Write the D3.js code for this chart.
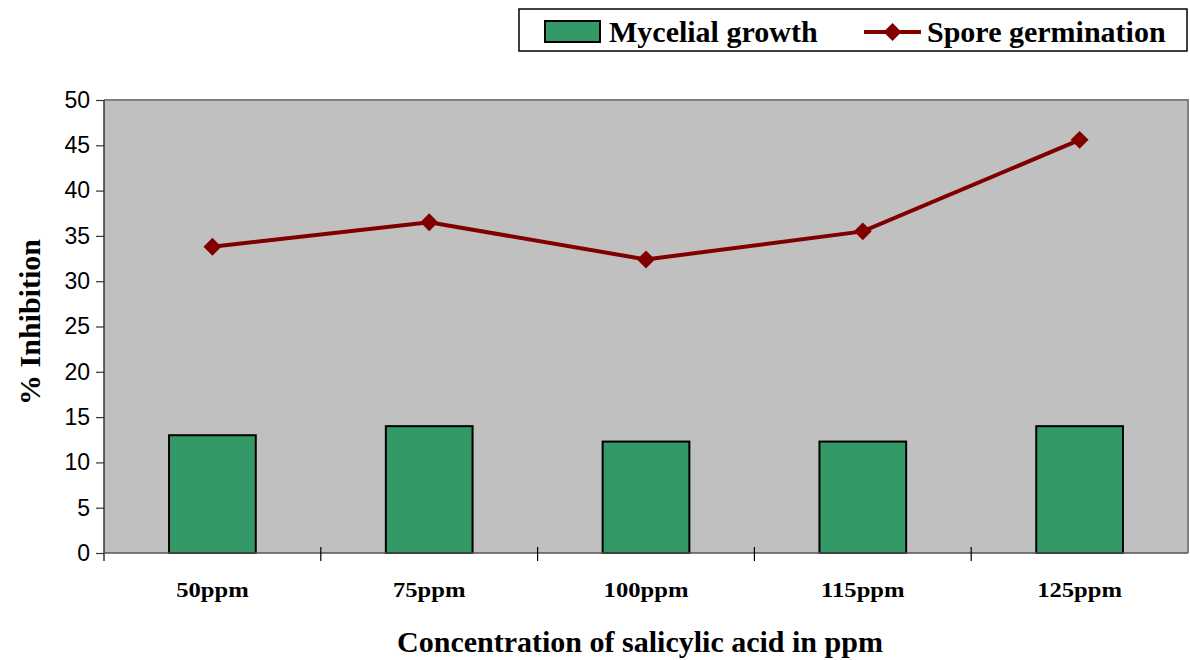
<!DOCTYPE html>
<html>
<head>
<meta charset="utf-8">
<script src="https://cdn.jsdelivr.net/npm/d3@7"></script>
<style>
  body { margin: 0; background: #fff; }
  svg { display: block; }
</style>
</head>
<body>
<svg id="chart" width="1190" height="660"></svg>
<script>
// Inhibition (%) at each salicylic acid concentration
const categories = ["50ppm", "75ppm", "100ppm", "115ppm", "125ppm"];
const mycelialGrowth = [13.0, 14.0, 12.3, 12.3, 14.0];
const sporeGermination = [33.8, 36.5, 32.4, 35.5, 45.6];
const yTicks = [0, 5, 10, 15, 20, 25, 30, 35, 40, 45, 50];

const svg = d3.select("#chart");
const plot = { left: 104, right: 1188, top: 100, bottom: 553 };
const serif = "'Liberation Serif', 'Times New Roman', serif";
const sans = "'Liberation Sans', Arial, sans-serif";

const x = d3.scaleBand().domain(categories).range([plot.left, plot.right]);
const y = d3.scaleLinear().domain([0, 50]).range([plot.bottom, plot.top]);

// plot background with grey frame on top and right
svg.append("rect")
  .attr("x", plot.left).attr("y", plot.top)
  .attr("width", plot.right - plot.left).attr("height", plot.bottom - plot.top)
  .attr("fill", "#c0c0c0");
svg.append("path")
  .attr("d", `M${plot.left},${plot.top}H${plot.right}V${plot.bottom}`)
  .attr("fill", "none").attr("stroke", "#808080").attr("stroke-width", 2);

// bars
const barW = x.bandwidth() * 0.4;
svg.append("g").selectAll("rect")
  .data(categories)
  .join("rect")
  .attr("x", d => x(d) + (x.bandwidth() - barW) / 2)
  .attr("y", (d, i) => y(mycelialGrowth[i]))
  .attr("width", barW)
  .attr("height", (d, i) => y(0) - y(mycelialGrowth[i]))
  .attr("fill", "#339966")
  .attr("stroke", "#000")
  .attr("stroke-width", 2);

// y axis
const yAxis = svg.append("g")
  .attr("transform", `translate(${plot.left},0)`)
  .call(d3.axisLeft(y).tickValues(yTicks).tickSize(8).tickPadding(6).tickFormat(d3.format("d")));
yAxis.select(".domain").attr("stroke", "#333").attr("stroke-width", 1.5)
  .attr("d", `M0,${plot.top}V${plot.bottom + 8}`);
yAxis.selectAll(".tick line").attr("stroke", "#333").attr("stroke-width", 1.2);
yAxis.selectAll(".tick text").attr("font-family", sans).attr("font-size", 23).attr("fill", "#000");

// x axis: ticks sit on band boundaries
const xAxisG = svg.append("g");
xAxisG.append("line")
  .attr("x1", plot.left).attr("x2", plot.right)
  .attr("y1", plot.bottom).attr("y2", plot.bottom)
  .attr("stroke", "#555").attr("stroke-width", 1.5);
xAxisG.selectAll("line.tick")
  .data(categories.slice(1))
  .join("line")
  .attr("class", "tick")
  .attr("x1", d => x(d)).attr("x2", d => x(d))
  .attr("y1", plot.bottom - 6).attr("y2", plot.bottom + 8)
  .attr("stroke", "#000").attr("stroke-width", 1.2);
xAxisG.selectAll("text")
  .data(categories)
  .join("text")
  .attr("transform", d => `translate(${x(d) + x.bandwidth() / 2},597) scale(1.12,1)`)
  .attr("text-anchor", "middle")
  .attr("font-family", serif).attr("font-weight", "bold").attr("font-size", 22)
  .text(d => d);

// line with diamond markers
const cx = d => x(d) + x.bandwidth() / 2;
const line = d3.line().x((d, i) => cx(categories[i])).y(d => y(d));
svg.append("path")
  .datum(sporeGermination)
  .attr("d", line)
  .attr("fill", "none")
  .attr("stroke", "#800000")
  .attr("stroke-width", 4);
svg.append("g").selectAll("path")
  .data(sporeGermination)
  .join("path")
  .attr("transform", (d, i) => `translate(${cx(categories[i])},${y(d)}) rotate(45)`)
  .attr("d", d3.symbol().type(d3.symbolSquare).size(160))
  .attr("fill", "#800000");

// axis titles
svg.append("text")
  .attr("x", 640).attr("y", 652)
  .attr("text-anchor", "middle")
  .attr("font-family", serif).attr("font-weight", "bold").attr("font-size", 30)
  .text("Concentration of salicylic acid in ppm");
svg.append("text")
  .attr("transform", "translate(40,322) rotate(-90)")
  .attr("text-anchor", "middle")
  .attr("font-family", serif).attr("font-weight", "bold").attr("font-size", 30)
  .text("% Inhibition");

// legend
const lg = svg.append("g");
lg.append("rect")
  .attr("x", 519).attr("y", 9).attr("width", 668).attr("height", 42)
  .attr("fill", "#fff").attr("stroke", "#000").attr("stroke-width", 1.5);
lg.append("rect")
  .attr("x", 545).attr("y", 21).attr("width", 55).attr("height", 21)
  .attr("fill", "#339966").attr("stroke", "#000").attr("stroke-width", 2);
lg.append("text")
  .attr("x", 609).attr("y", 42)
  .attr("font-family", serif).attr("font-weight", "bold").attr("font-size", 30)
  .text("Mycelial growth");
lg.append("line")
  .attr("x1", 864).attr("x2", 921).attr("y1", 32).attr("y2", 32)
  .attr("stroke", "#800000").attr("stroke-width", 4);
lg.append("path")
  .attr("transform", "translate(892.5,32) rotate(45)")
  .attr("d", d3.symbol().type(d3.symbolSquare).size(160))
  .attr("fill", "#800000");
lg.append("text")
  .attr("x", 927).attr("y", 42)
  .attr("font-family", serif).attr("font-weight", "bold").attr("font-size", 30)
  .text("Spore germination");
</script>
</body>
</html>
